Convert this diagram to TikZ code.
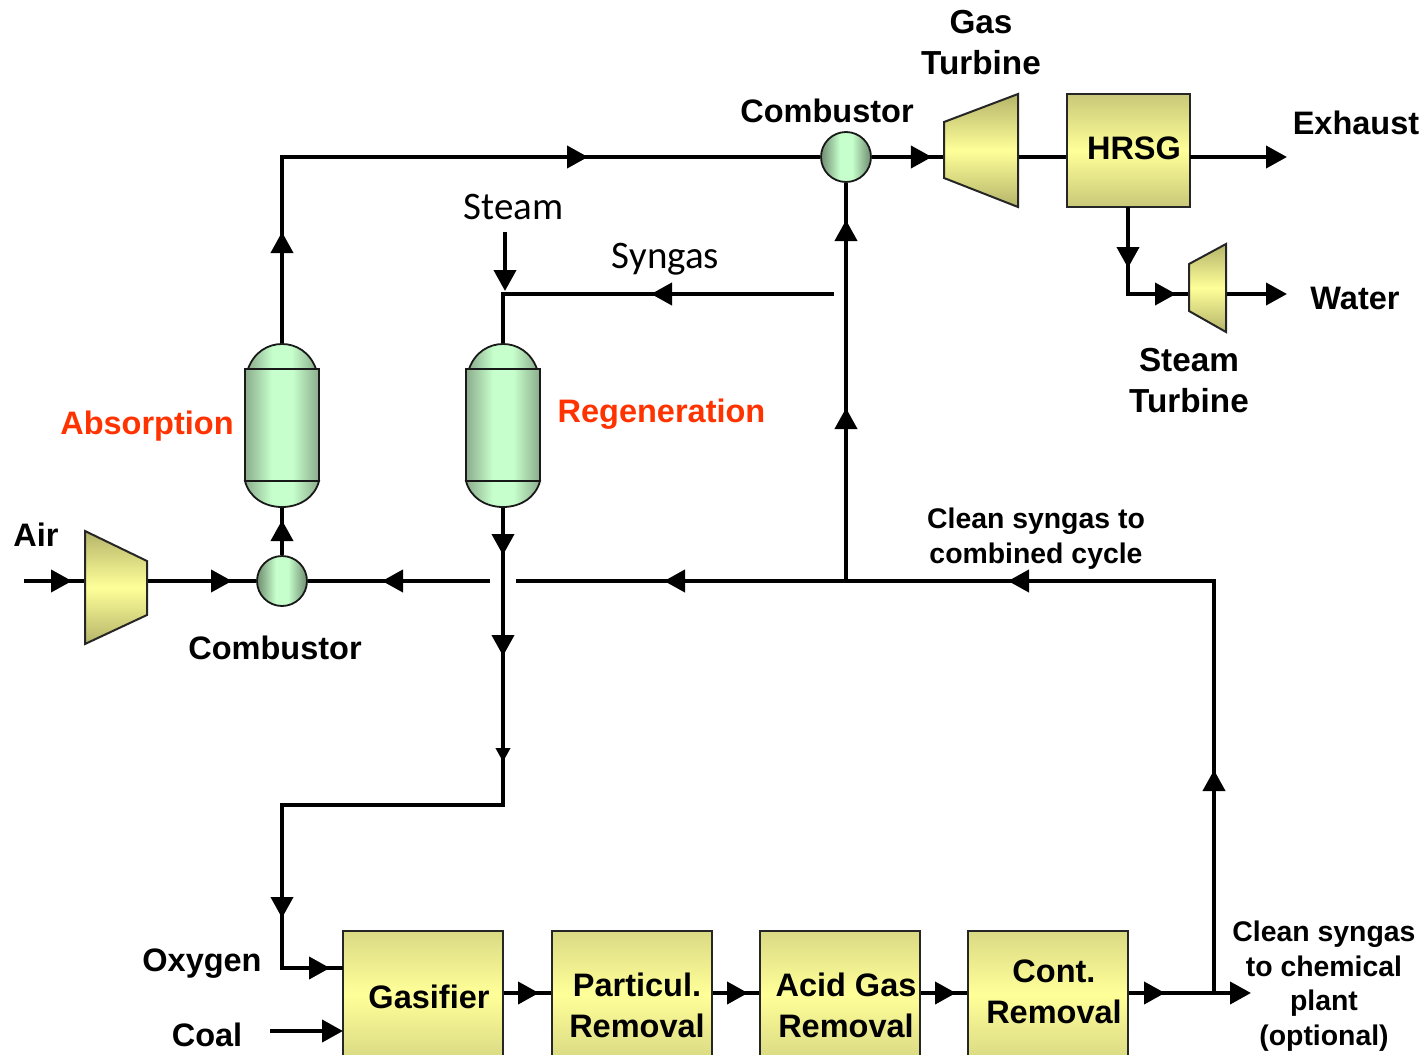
\documentclass[tikz,border=0pt]{standalone}
\usepackage{fontspec}
\setmainfont{Liberation Sans}
\newfontfamily\calib{Carlito}
\usetikzlibrary{arrows.meta,decorations.markings}
\definecolor{oliveedge}{HTML}{B4B46A}
\definecolor{boxedge}{HTML}{DADA84}
\definecolor{hrsgedge}{HTML}{C8C878}
\definecolor{yellowmid}{HTML}{FFFF99}
\definecolor{greenedge}{HTML}{8CAC8C}
\definecolor{circedge}{HTML}{6F8C70}
\definecolor{greenmid}{HTML}{C6FFCC}
\definecolor{redlabel}{HTML}{FF3300}
\pgfdeclarehorizontalshading{vesselshade}{100bp}{color(0bp)=(greenedge); color(25bp)=(greenedge); color(43bp)=(greenmid); color(57bp)=(greenmid); color(75bp)=(greenedge); color(100bp)=(greenedge)}
\pgfdeclarehorizontalshading{mixershade}{100bp}{color(0bp)=(circedge); color(25bp)=(circedge); color(44bp)=(greenmid); color(56bp)=(greenmid); color(75bp)=(circedge); color(100bp)=(circedge)}
\tikzset{
  x=1pt,y=-1pt,
  bigtip/.tip={Triangle[length=21pt,width=22pt]},
  smalltip/.tip={Triangle[length=14pt,width=14pt]},
  flow/.style={line width=4pt,line join=miter,black},
  flowend/.style={flow,-{bigtip}},
  flowtip/.style={postaction={decorate,decoration={markings,mark=at position #1pt with {\arrow{bigtip}}}}},
  flowtipsmall/.style={postaction={decorate,decoration={markings,mark=at position #1pt with {\arrow{smalltip}}}}},
  outline/.style={draw=black!85,line width=2pt},
  turbine/.style={outline,top color=oliveedge,bottom color=oliveedge,middle color=yellowmid},
  vessel/.style={draw=black!90,line width=1.8pt,shade,shading=vesselshade},
  mixer/.style={circle,draw=black!90,line width=1.8pt,minimum size=50pt,inner sep=0pt,shade,shading=mixershade},
  unitbox/.style={outline,top color=boxedge,bottom color=boxedge,middle color=yellowmid,anchor=north west,minimum width=160pt,minimum height=127pt,inner sep=0pt},
  hrsgbox/.style={outline,top color=hrsgedge,bottom color=hrsgedge,middle color=yellowmid,anchor=north west,minimum width=123pt,minimum height=113pt,inner sep=0pt},
  lab/.style={font=\fontsize{32.5}{41}\selectfont\bfseries,inner sep=0pt,align=center},
  biglab/.style={font=\fontsize{33.3}{41}\selectfont\bfseries,inner sep=0pt,align=center},
  smalllab/.style={font=\fontsize{28.4}{34.5}\selectfont\bfseries,inner sep=0pt,align=center},
  thinlab/.style={font=\fontsize{39}{44}\selectfont\calib,inner sep=0pt,anchor=base},
  redlab/.style={lab,text=redlabel},
}
\begin{document}
\begin{tikzpicture}
\useasboundingbox (0,0) rectangle (1425,1055);
\clip (0,0) rectangle (1425,1055);

% anchors
\coordinate (airin) at (24,581);
\coordinate (compin) at (85,581);
\coordinate (compout) at (147,581);
\coordinate (v1top) at (282,344);
\coordinate (v1bot) at (282,507);
\coordinate (v2top) at (503,344);
\coordinate (v2bot) at (503,507);
\coordinate (corner1) at (282,157);
\coordinate (gtin) at (944,157);
\coordinate (gtout) at (1018,157);
\coordinate (exhaustend) at (1287,157);
\coordinate (hrsgright) at (1190,157);
\coordinate (hrsgbot) at (1128,207);
\coordinate (bend2) at (1128,294);
\coordinate (stin) at (1189,294);
\coordinate (stout) at (1226,294);
\coordinate (waterend) at (1287,294);
\coordinate (syngasstart) at (834,294);
\coordinate (bend3) at (503,294);
\coordinate (steamstart) at (505,232);
\coordinate (steamend) at (505,291);
\coordinate (gap1) at (490,581);
\coordinate (gap2) at (516,581);
\coordinate (tee) at (846,581);
\coordinate (bend4) at (503,805);
\coordinate (bend5) at (282,805);
\coordinate (bend6) at (282,968);
\coordinate (oxin) at (343,968);
\coordinate (coalstart) at (270,1031);
\coordinate (coalend) at (343,1031);
\coordinate (branch) at (1214,993);
\coordinate (bend7) at (1214,581);
\coordinate (chemend) at (1251,993);

% units
\node[mixer] (comb1) at (282,581) {};
\node[mixer] (comb2) at (846,157) {};
\node[hrsgbox] (hrsg) at (1066,93) {};
\node[unitbox] (gasifier) at (342,930) {};
\node[unitbox] (particul) at (551,930) {};
\node[unitbox] (acid) at (759,930) {};
\node[unitbox] (cont) at (967,930) {};

% connectors
\draw[flow,flowtip=48] (airin) -- (compin);
\draw[flow,flowtip=85] (compout) -- (comb1.west);
\draw[flow,flowtip=108] (gap1) -- (comb1.east);
\draw[flow,flowtip=35] (comb1.north) -- (v1bot);
\draw[flow,flowtip=112,flowtip=493] (v1top) -- (corner1) -- (comb2.west);
\draw[flow,flowtip=60] (comb2.east) -- (gtin);
\draw[flow] (gtout) -- (hrsg.west |- gtout);
\draw[flowend] (hrsgright) -- (exhaustend);
\draw[flow,flowtip=61,flowtip=135] (hrsgbot) -- (bend2) -- (stin);
\draw[flowend] (stout) -- (waterend);
\draw[flow,flowtip=173,flowtip=361] (tee) -- (comb2.south);
\draw[flow,flowtip=183] (syngasstart) -- (bend3) -- (v2top);
\draw[flowend] (steamstart) -- (steamend);
\draw[flow,flowtip=48,flowtip=149,flowtipsmall=255,flowtip=632,flowtip=730] (v2bot) -- (bend4) -- (bend5) -- (bend6) -- (oxin);
\draw[flow,flowtip=223,flowtip=618,flowtip=962] (branch) -- (bend7) -- (gap2);
\draw[flowend] (coalstart) -- (coalend);
\draw[flow,flowtip=35] (gasifier.east |- branch) -- (particul.west |- branch);
\draw[flow,flowtip=35] (particul.east |- branch) -- (acid.west |- branch);
\draw[flow,flowtip=35] (acid.east |- branch) -- (cont.west |- branch);
\draw[flow,flowtip=36,-{bigtip}] (cont.east |- branch) -- (chemend);

% machines
\path[turbine] (85,531) -- (147,561) -- (147,615) -- (85,644) -- cycle;
\path[turbine] (944,122) -- (1018,94) -- (1018,207) -- (944,178) -- cycle;
\path[turbine] (1189,264) -- (1226,244) -- (1226,332) -- (1189,311) -- cycle;

% vessels
\foreach \cx in {282,503}{
  \path[vessel] (\cx-34,369) .. controls (\cx-28,352) and (\cx-14,344) .. (\cx,344) .. controls (\cx+14,344) and (\cx+28,352) .. (\cx+34,369) -- cycle;
  \path[vessel] (\cx-37,481) .. controls (\cx-33,497) and (\cx-18,507) .. (\cx,507) .. controls (\cx+18,507) and (\cx+33,497) .. (\cx+37,481) -- cycle;
  \path[vessel] (\cx-37,369) rectangle (\cx+37,481);
}

% labels
\node[biglab] (lgt) at (981,43) {Gas\\Turbine};
\node[lab,anchor=base] (lcomb2) at (827,122) {Combustor};
\node[lab,anchor=base] (lhrsg) at (1134,159) {HRSG};
\node[lab,anchor=base] (lexh) at (1356,134) {Exhaust};
\node[lab,anchor=base] (lwater) at (1355,309) {Water};
\node[biglab] (lst) at (1189,381) {Steam\\Turbine};
\node[thinlab] (lsteam) at (513.5,219) {Steam};
\node[thinlab] (lsyn) at (665.5,268) {Syngas};
\node[redlab,anchor=base] (labs) at (147,434) {Absorption};
\node[redlab,anchor=base] (lreg) at (661.5,422) {Regeneration};
\node[lab,anchor=base] (lair) at (36,546) {Air};
\node[lab,anchor=base] (lcomb1) at (275,659) {Combustor};
\node[smalllab] (lcc) at (1036,538.5) {Clean syngas to\\combined cycle};
\node[lab,anchor=base] (lox) at (202,971) {Oxygen};
\node[lab,anchor=base] (lcoal) at (207,1046) {Coal};
\node[lab,anchor=base] (lgas) at (429,1008) {Gasifier};
\node[lab] (lpart) at (637,1005) {Particul.\\Removal};
\node[lab] (lacid) at (846,1005) {Acid Gas\\Removal};
\node[lab] (lcont) at (1054,992) {Cont.\\Removal};
\node[smalllab] (lchem) at (1324,986) {Clean syngas\\to chemical\\plant\\(optional)};
\end{tikzpicture}
\end{document}
